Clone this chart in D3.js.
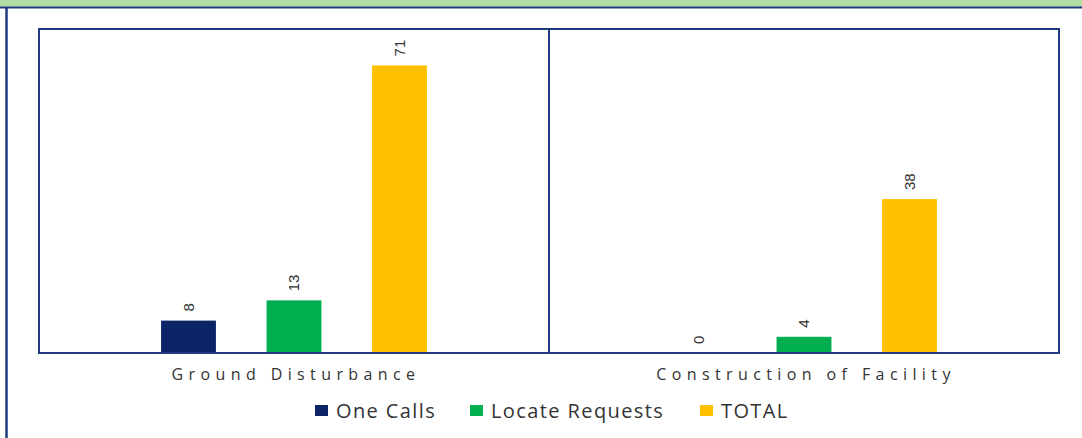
<!DOCTYPE html>
<html>
<head>
<meta charset="utf-8">
<script src="https://cdn.jsdelivr.net/npm/d3@7"></script>
<style>
  body { margin: 0; background: #fff; }
  svg { display: block; }
</style>
</head>
<body>
<div class="canvas"></div>
<script>
// data
const categories = ['Ground Disturbance', 'Construction of Facility']
const seriesNames = ['One Calls', 'Locate Requests', 'TOTAL']
const oneCalls = [8, 0]
const locateRequests = [13, 4]
const totals = [71, 38]
const colors = ['#0d2466', '#00b050', '#ffc000']

const W = 1082, H = 438
const svg = d3.select('.canvas')
    .append('svg')
    .attr('width', W)
    .attr('height', H)

// green band and outer frame
svg.append('rect').attr('x', 0).attr('y', 0).attr('width', W).attr('height', 7).attr('fill', '#b6dea4')
svg.append('line').attr('x1', 0).attr('x2', W).attr('y1', 7.5).attr('y2', 7.5)
    .attr('stroke', '#1f3a80').attr('stroke-width', 2)
svg.append('line').attr('x1', 6.5).attr('x2', 6.5).attr('y1', 7).attr('y2', H)
    .attr('stroke', '#1f3a80').attr('stroke-width', 2.5)

const margin = { top: 29, left: 39, right: 23, bottom: 85 }
const graphWidth = W - margin.left - margin.right
const graphHeight = H - margin.top - margin.bottom

const graph = svg.append('g')
    .attr('transform', `translate(${margin.left}, ${margin.top})`)

const y = d3.scaleLinear()
    .domain([0, 80])
    .range([graphHeight, 0])

const x0 = d3.scaleBand()
    .domain(categories)
    .range([0, graphWidth])

const x1 = d3.scaleBand()
    .domain(seriesNames)
    .range([0, 316.5])
    .paddingInner(0.48)
    .paddingOuter(0.24)

const color = d3.scaleOrdinal().domain(seriesNames).range(colors)

const rows = categories.map((c, i) => ({
    cat: c,
    vals: [oneCalls[i], locateRequests[i], totals[i]].map((v, j) => ({ name: seriesNames[j], value: v }))
}))

const groups = graph.selectAll('g.grp')
    .data(rows)
    .enter()
    .append('g')
    .attr('class', 'grp')
    .attr('transform', d => `translate(${x0(d.cat) + (x0.bandwidth() - 316.5) / 2}, 0)`)

groups.selectAll('rect')
    .data(d => d.vals)
    .enter()
    .append('rect')
    .attr('x', d => x1(d.name))
    .attr('y', d => y(d.value))
    .attr('width', x1.bandwidth())
    .attr('height', d => graphHeight - y(d.value))
    .attr('fill', d => color(d.name))

groups.selectAll('text.val')
    .data(d => d.vals)
    .enter()
    .append('text')
    .attr('class', 'val')
    .attr('transform', d => `translate(${x1(d.name) + x1.bandwidth() / 2 + 5}, ${y(d.value) - 9}) rotate(-90)`)
    .attr('text-anchor', 'start')
    .attr('font-family', 'Liberation Sans, Arial, sans-serif')
    .attr('font-size', 15)
    .attr('fill', '#333')
    .text(d => d.value)

// plot frame and divider
graph.append('rect')
    .attr('x', 0).attr('y', 0)
    .attr('width', graphWidth).attr('height', graphHeight)
    .attr('fill', 'none')
    .attr('stroke', '#1f3a80')
    .attr('stroke-width', 2)
graph.append('line')
    .attr('x1', x0(categories[1])).attr('x2', x0(categories[1]))
    .attr('y1', 0).attr('y2', graphHeight)
    .attr('stroke', '#1f3a80')
    .attr('stroke-width', 2)

// category labels
graph.selectAll('text.cat')
    .data(categories)
    .enter()
    .append('text')
    .attr('class', 'cat')
    .attr('x', d => x0(d) + x0.bandwidth() / 2 + 2)
    .attr('y', graphHeight + 27)
    .attr('text-anchor', 'middle')
    .attr('font-family', 'Open Sans, sans-serif')
    .attr('font-size', 16)
    .attr('letter-spacing', 5.4)
    .attr('fill', '#333')
    .text(d => d)

// legend
const legendX = [315, 470, 700]
const legend = svg.selectAll('g.leg')
    .data(seriesNames)
    .enter()
    .append('g')
    .attr('class', 'leg')
    .attr('transform', (d, i) => `translate(${legendX[i]}, 411)`)

legend.append('rect')
    .attr('x', 0).attr('y', -6)
    .attr('width', 13).attr('height', 11)
    .attr('fill', d => color(d))

legend.append('text')
    .attr('x', 21)
    .attr('y', 7)
    .attr('font-family', 'Open Sans, sans-serif')
    .attr('font-size', 20)
    .attr('letter-spacing', 1.4)
    .attr('fill', '#333')
    .text(d => d)
</script>
</body>
</html>
